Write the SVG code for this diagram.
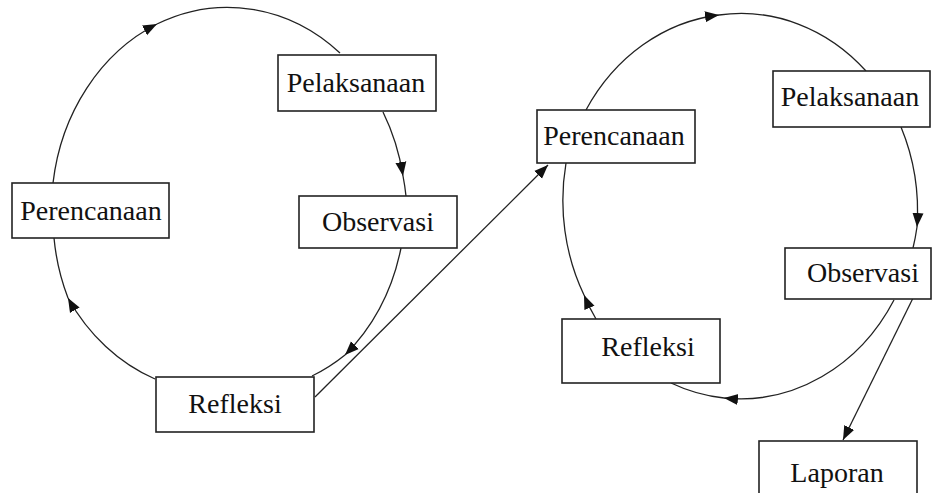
<svg xmlns="http://www.w3.org/2000/svg" width="932" height="493" viewBox="0 0 932 493">
<style>
.box{fill:#fff;stroke:#222;stroke-width:1.6}
.lbl{font-family:'Liberation Serif','DejaVu Serif','Times New Roman',serif;font-size:28px;fill:#111;text-anchor:middle}
.c{fill:none;stroke:#222;stroke-width:1.3}
</style>
<defs>
<marker id="ah" markerUnits="userSpaceOnUse" markerWidth="15" markerHeight="12" refX="14" refY="5.5" orient="auto" viewBox="0 0 15 11">
<path d="M0,0 L14,5.5 L0,11 z" fill="#111"/>
</marker>
</defs>
<g id="connectors">
<path class="c" d="M53,183 A178 203 0 0 1 157,24" marker-end="url(#ah)"/>
<path class="c" d="M157,24 A178 203 0 0 1 340,53"/>
<path class="c" d="M383,112 A178 203 0 0 1 403,176" marker-end="url(#ah)"/>
<path class="c" d="M403,176 A178 203 0 0 1 406,196"/>
<path class="c" d="M401,248 A178 203 0 0 1 345,355" marker-end="url(#ah)"/>
<path class="c" d="M345,355 A178 203 0 0 1 312,376"/>
<path class="c" d="M155,379 A178 203 0 0 1 68,298" marker-end="url(#ah)"/>
<path class="c" d="M68,298 A178 203 0 0 1 54,238"/>
<path class="c" d="M315,397 L548,165" marker-end="url(#ah)"/>
<path class="c" d="M586,110 A178 200 0 0 1 719,15" marker-end="url(#ah)"/>
<path class="c" d="M719,15 A178 200 0 0 1 866,71"/>
<path class="c" d="M901,127 A178 200 0 0 1 917,227" marker-end="url(#ah)"/>
<path class="c" d="M917,227 A178 200 0 0 1 913,248"/>
<path class="c" d="M894,300 A178 200 0 0 1 724,398" marker-end="url(#ah)"/>
<path class="c" d="M724,398 A178 200 0 0 1 671,383"/>
<path class="c" d="M596,319 A178 200 0 0 1 584,295" marker-end="url(#ah)"/>
<path class="c" d="M584,295 A178 200 0 0 1 566,163"/>
<path class="c" d="M916,292 L843,440" marker-end="url(#ah)"/>
</g>
<g id="pelaksanaan1"><rect class="box" x="278" y="55" width="158" height="56"/><text class="lbl" font-family="Liberation Serif" x="356" y="92">Pelaksanaan</text></g>
<g id="perencanaan1"><rect class="box" x="12" y="183" width="157" height="55"/><text class="lbl" font-family="Liberation Serif" x="91" y="220">Perencanaan</text></g>
<g id="observasi1"><rect class="box" x="299" y="196" width="158" height="52"/><text class="lbl" font-family="Liberation Serif" x="378" y="231">Observasi</text></g>
<g id="refleksi1"><rect class="box" x="156" y="377" width="158" height="55"/><text class="lbl" font-family="Liberation Serif" x="235" y="413">Refleksi</text></g>
<g id="perencanaan2"><rect class="box" x="537" y="110" width="158" height="53"/><text class="lbl" font-family="Liberation Serif" x="614" y="145">Perencanaan</text></g>
<g id="pelaksanaan2"><rect class="box" x="773" y="71" width="157" height="56"/><text class="lbl" font-family="Liberation Serif" x="850" y="106">Pelaksanaan</text></g>
<g id="observasi2"><rect class="box" x="785" y="248" width="146" height="51"/><text class="lbl" font-family="Liberation Serif" x="863" y="282">Observasi</text></g>
<g id="refleksi2"><rect class="box" x="562" y="319" width="158" height="64"/><text class="lbl" font-family="Liberation Serif" x="648" y="356">Refleksi</text></g>
<g id="laporan"><rect class="box" x="759" y="441" width="158" height="70"/><text class="lbl" font-family="Liberation Serif" x="837" y="482">Laporan</text></g>
</svg>
